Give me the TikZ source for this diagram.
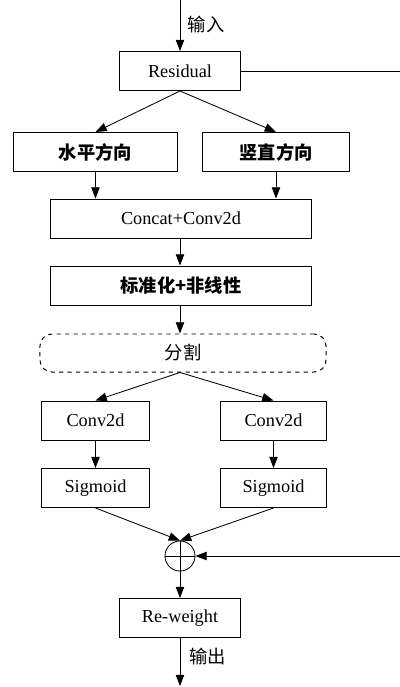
\documentclass[tikz,border=0pt]{standalone}
\usepackage{fontspec}
\setmainfont{Liberation Serif}
\newfontfamily\cjk{Noto Sans CJK SC}
\usetikzlibrary{arrows.meta}

\tikzset{
  box/.style={draw, line width=0.7pt, minimum height=0.975cm, inner sep=0pt, font=\fontsize{13}{15}\selectfont},
  hbox/.style={box, font=\fontsize{13}{15}\selectfont\cjk\bfseries},
  flow/.style={-{Triangle[length=8pt,width=6pt]}, line width=0.6pt}
}

\begin{document}
\begin{tikzpicture}[x=0.025cm, y=-0.025cm]
  \useasboundingbox (0,0) rectangle (400,687);

  % main column
  \coordinate (in) at (180,0);
  \node[box, minimum width=3.025cm] (res) at (180,71) {Residual};
  \node[hbox, minimum width=4.075cm] (hor) at (95.5,152) {水平方向};
  \node[hbox, minimum width=3.65cm] (ver) at (276,152) {竖直方向};
  \node[box, minimum width=6.5cm] (cat) at (181,218.5) {Concat+Conv2d};
  \node[hbox, minimum width=6.5cm] (norm) at (181,285.5) {标准化+非线性};
  \node[box, dashed, rounded corners=0.3cm, minimum width=7.15cm, minimum height=0.95cm,
        font=\fontsize{13}{15}\selectfont\cjk] (split) at (183,353) {分割};
  \node[box, minimum width=2.675cm] (c1) at (95.5,420.5) {Conv2d};
  \node[box, minimum width=2.625cm] (c2) at (273.5,420.5) {Conv2d};
  \node[box, minimum width=2.675cm] (s1) at (95.5,488) {Sigmoid};
  \node[box, minimum width=2.625cm] (s2) at (273.5,488) {Sigmoid};
  \node[draw, circle, line width=0.6pt, minimum size=0.75cm, inner sep=0pt,
        path picture={\draw (path picture bounding box.north) -- (path picture bounding box.south)
                            (path picture bounding box.west) -- (path picture bounding box.east);}] (plus) at (180,556) {};
  \node[box, minimum width=3.025cm] (rw) at (180,618) {Re-weight};
  \coordinate (out) at (180,686);
  \coordinate (r1) at (400,71);
  \coordinate (r2) at (400,556);

  \draw[flow] (in) -- node[right, xshift=2, yshift=1, font=\fontsize{13}{15}\selectfont\cjk] {输入} (res);
  \draw[line width=0.6pt] (res) -- (r1);
  \draw[flow] (res.south) -- (hor.north);
  \draw[flow] (res.south) -- (ver.north);
  \draw[flow] (hor.south) -- (hor.south |- cat.north);
  \draw[flow] (ver.south) -- (ver.south |- cat.north);
  \draw[flow] (cat.south -| res) -- (norm.north -| res);
  \draw[flow] (norm.south -| res) -- (split.north -| res);
  \draw[flow] (split.south -| res) -- (c1.north);
  \draw[flow] (split.south -| res) -- (c2.north);
  \draw[flow] (c1) -- (s1);
  \draw[flow] (c2) -- (s2);
  \draw[flow] (s1.south) -- (plus.north);
  \draw[flow] (s2.south) -- (plus.north);
  \draw[flow] (r2) -- (plus);
  \draw[flow] (plus) -- (rw);
  \draw[flow] (rw) -- node[right, xshift=3, yshift=4, font=\fontsize{13}{15}\selectfont\cjk] {输出} (out);
\end{tikzpicture}
\end{document}
